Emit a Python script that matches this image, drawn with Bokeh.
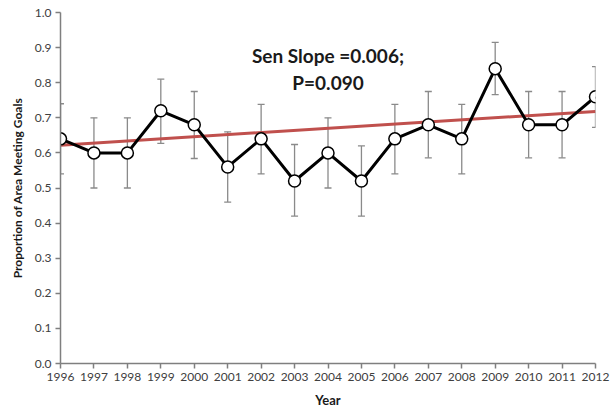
from bokeh.plotting import figure
from bokeh.models import ColumnDataSource, Whisker, FixedTicker, Label, NumeralTickFormatter, Range1d
from bokeh.embed import file_html
from bokeh.resources import INLINE

years = [1996, 1997, 1998, 1999, 2000, 2001, 2002, 2003, 2004, 2005, 2006, 2007, 2008, 2009, 2010, 2011, 2012]
proportion = [0.64, 0.60, 0.60, 0.72, 0.68, 0.56, 0.64, 0.52, 0.60, 0.52, 0.64, 0.68, 0.64, 0.84, 0.68, 0.68, 0.76]
err_upper = [0.74, 0.70, 0.70, 0.81, 0.775, 0.66, 0.738, 0.624, 0.70, 0.62, 0.738, 0.775, 0.738, 0.915, 0.775, 0.775, 0.846]
err_lower = [0.54, 0.50, 0.50, 0.627, 0.584, 0.46, 0.54, 0.42, 0.50, 0.42, 0.54, 0.586, 0.54, 0.766, 0.586, 0.586, 0.673]
sen_slope = 0.006
trend_start = 0.622
y_ticks = [0.0, 0.1, 0.2, 0.3, 0.4, 0.5, 0.6, 0.7, 0.8, 0.9, 1.0]

FONT = "Lato"

p = figure(width=616, height=413, output_backend="svg", toolbar_location=None,
           x_range=Range1d(1996, 2012), y_range=Range1d(0, 1.0),
           min_border_left=60, min_border_right=21, min_border_top=12, min_border_bottom=50)
p.outline_line_color = None
p.xgrid.visible = False
p.ygrid.visible = False
p.background_fill_color = "white"

src = ColumnDataSource(dict(x=years, y=proportion, upper=err_upper, lower=err_lower))

w = Whisker(source=src, base="x", upper="upper", lower="lower",
            line_color="#8a8a8a", line_width=1.3)
w.upper_head.size = 7
w.lower_head.size = 7
w.upper_head.line_color = "#8a8a8a"
w.lower_head.line_color = "#8a8a8a"
w.upper_head.line_width = 1.3
w.lower_head.line_width = 1.3
p.add_layout(w)

# Sen slope trend line
tx = [years[0], years[-1]]
ty = [trend_start, trend_start + sen_slope * (years[-1] - years[0])]
p.line(tx, ty, line_color="#c0504d", line_width=3)

p.line("x", "y", source=src, line_color="black", line_width=3)
p.scatter("x", "y", source=src, marker="circle", size=12, fill_color="white",
          line_color="black", line_width=1.5)

p.add_layout(Label(x=2004.0, y=0.877, text="Sen Slope =0.006;", text_align="center",
                   text_baseline="middle", text_font=FONT, text_font_style="bold",
                   text_font_size="19px", text_color="#1a1a1a"))
p.add_layout(Label(x=2004.0, y=0.80, text="P=0.090", text_align="center",
                   text_baseline="middle", text_font=FONT, text_font_style="bold",
                   text_font_size="19px", text_color="#1a1a1a"))

for ax in (p.xaxis[0], p.yaxis[0]):
    ax.axis_line_color = "#7f7f7f"
    ax.axis_line_width = 1.5
    ax.major_tick_line_color = "#7f7f7f"
    ax.major_tick_line_width = 1.5
    ax.major_tick_out = 5
    ax.major_tick_in = 0
    ax.minor_tick_line_color = None
    ax.major_label_text_font = FONT
    ax.major_label_text_font_size = "12px"
    ax.major_label_text_color = "#404040"
    ax.axis_label_text_font = FONT
    ax.axis_label_text_font_style = "bold"
    ax.axis_label_text_color = "#1a1a1a"

p.xaxis.ticker = FixedTicker(ticks=years)
p.yaxis.ticker = FixedTicker(ticks=y_ticks)
p.yaxis.formatter = NumeralTickFormatter(format="0.0")
p.xaxis.axis_label = "Year"
p.yaxis.axis_label = "Proportion of Area Meeting Goals"
p.xaxis.axis_label_text_font_size = "13px"
p.yaxis.axis_label_text_font_size = "12px"
p.xaxis.axis_label_standoff = 8
p.yaxis.axis_label_standoff = 7
p.xaxis.major_label_standoff = 4
p.yaxis.major_label_standoff = 4

open("out.html", "w").write(file_html(p, INLINE))
